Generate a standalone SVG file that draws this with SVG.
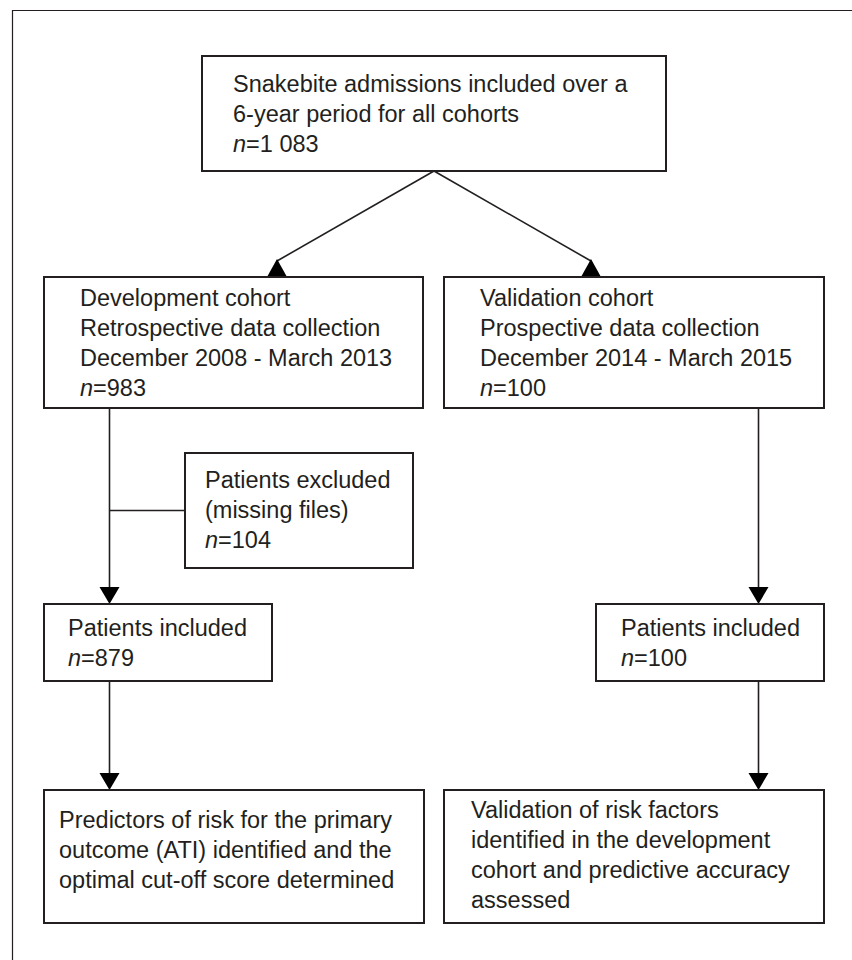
<svg xmlns="http://www.w3.org/2000/svg" width="852" height="960" viewBox="0 0 852 960">
<style>
  .box { fill: #ffffff; stroke: #231f20; stroke-width: 2; }
  .t { font-family: "Liberation Sans", Arial, sans-serif; font-size: 23.5px; fill: #231f20; }
  .i { font-style: italic; }
  .ln { stroke: #231f20; stroke-width: 1.6; fill: none; }
  .ah { fill: #000000; stroke: none; }
  .frame { stroke: #231f20; stroke-width: 1.2; fill: none; }
</style>
<rect x="0" y="0" width="852" height="960" fill="#ffffff"/>
<path class="frame" d="M12.5,960 V10.5 H852"/>

<g id="connectors">
  <line class="ln" x1="434" y1="171" x2="277" y2="261"/>
  <polygon class="ah" points="277,259 287,277 267,277"/>
  <line class="ln" x1="434" y1="171" x2="591" y2="261"/>
  <polygon class="ah" points="591,259 601,277 581,277"/>
  <line class="ln" x1="109.5" y1="408" x2="109.5" y2="590"/>
  <line class="ln" x1="109.5" y1="510.5" x2="185" y2="510.5"/>
  <polygon class="ah" points="99.5,587 119.5,587 109.5,604"/>
  <line class="ln" x1="109.5" y1="681" x2="109.5" y2="776"/>
  <polygon class="ah" points="99.5,773 119.5,773 109.5,790"/>
  <line class="ln" x1="758.5" y1="408" x2="758.5" y2="590"/>
  <polygon class="ah" points="748.5,587 768.5,587 758.5,604"/>
  <line class="ln" x1="758.5" y1="681" x2="758.5" y2="776"/>
  <polygon class="ah" points="748.5,773 768.5,773 758.5,790"/>
</g>

<g id="n-admissions">
  <rect class="box" x="202" y="56" width="464" height="115"/>
  <text class="t" x="233" y="92">Snakebite admissions included over a</text>
  <text class="t" x="233" y="122">6-year period for all cohorts</text>
  <text class="t" x="233" y="152"><tspan class="i">n</tspan>=1 083</text>
</g>

<g id="n-development">
  <rect class="box" x="44" y="277" width="379" height="131"/>
  <text class="t" x="80" y="306">Development cohort</text>
  <text class="t" x="80" y="336">Retrospective data collection</text>
  <text class="t" x="80" y="366">December 2008 - March 2013</text>
  <text class="t" x="80" y="396"><tspan class="i">n</tspan>=983</text>
</g>

<g id="n-validation">
  <rect class="box" x="444" y="277" width="380" height="131"/>
  <text class="t" x="480" y="306">Validation cohort</text>
  <text class="t" x="480" y="336">Prospective data collection</text>
  <text class="t" x="480" y="366">December 2014 - March 2015</text>
  <text class="t" x="480" y="396"><tspan class="i">n</tspan>=100</text>
</g>

<g id="n-excluded">
  <rect class="box" x="185" y="453" width="228" height="115"/>
  <text class="t" x="205" y="488">Patients excluded</text>
  <text class="t" x="205" y="518">(missing files)</text>
  <text class="t" x="205" y="548"><tspan class="i">n</tspan>=104</text>
</g>

<g id="n-included-dev">
  <rect class="box" x="44" y="604" width="228" height="77"/>
  <text class="t" x="68" y="636">Patients included</text>
  <text class="t" x="68" y="666"><tspan class="i">n</tspan>=879</text>
</g>

<g id="n-included-val">
  <rect class="box" x="596" y="604" width="228" height="77"/>
  <text class="t" x="621" y="636">Patients included</text>
  <text class="t" x="621" y="666"><tspan class="i">n</tspan>=100</text>
</g>

<g id="n-predictors">
  <rect class="box" x="44" y="790" width="380" height="133"/>
  <text class="t" x="59" y="828">Predictors of risk for the primary</text>
  <text class="t" x="59" y="858">outcome (ATI) identified and the</text>
  <text class="t" x="59" y="888">optimal cut-off score determined</text>
</g>

<g id="n-validation-risk">
  <rect class="box" x="444" y="790" width="380" height="133"/>
  <text class="t" x="471" y="818">Validation of risk factors</text>
  <text class="t" x="471" y="848">identified in the development</text>
  <text class="t" x="471" y="878">cohort and predictive accuracy</text>
  <text class="t" x="471" y="908">assessed</text>
</g>
</svg>
